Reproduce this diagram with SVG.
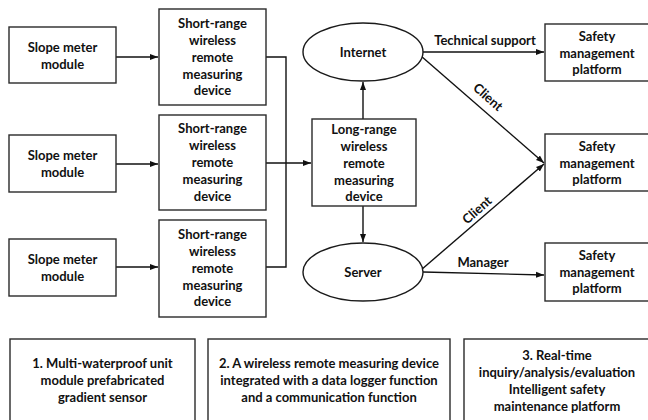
<svg xmlns="http://www.w3.org/2000/svg" width="648" height="420" viewBox="0 0 648 420">
  <style>
    .box { fill: #ffffff; stroke: #2a2a2a; stroke-width: 1.4; }
    .oval { fill: #ffffff; stroke: #1a1a1a; stroke-width: 1.4; }
    .t { font-family: Lato, "Liberation Sans", sans-serif; font-weight: bold; font-size: 13px; fill: #111111; text-anchor: middle; }
    .edge { fill: none; stroke: #111111; stroke-width: 1.4; }
    .arrow { marker-end: url(#head); }
  </style>
  <defs>
    <marker id="head" markerUnits="userSpaceOnUse" markerWidth="9" markerHeight="7" refX="8" refY="3.5" orient="auto">
      <path d="M0,0.5 L8,3.5 L0,6.5 z" fill="#111111"/>
    </marker>
  </defs>
  <rect width="648" height="420" fill="#ffffff"/>

  <!-- connectors -->
  <g id="connectors">
    <line class="edge arrow" x1="116" y1="57" x2="158" y2="57"/>
    <line class="edge arrow" x1="116" y1="164" x2="158" y2="164"/>
    <line class="edge arrow" x1="116" y1="267" x2="158" y2="267"/>
    <polyline class="edge" points="266,57 286,57 286,267 266,267"/>
    <line class="edge arrow" x1="266" y1="163" x2="311" y2="163"/>
    <line class="edge arrow" x1="363" y1="119" x2="363" y2="82"/>
    <line class="edge arrow" x1="363" y1="206" x2="363" y2="242"/>
    <line class="edge arrow" x1="423" y1="52" x2="544" y2="52"/>
    <line class="edge arrow" x1="421" y1="56" x2="544" y2="163"/>
    <line class="edge arrow" x1="421" y1="270" x2="544" y2="164"/>
    <line class="edge arrow" x1="423" y1="272" x2="544" y2="275"/>
    <text class="t" x="485" y="44.5">Technical support</text>
    <text class="t" x="483" y="266.5">Manager</text>
    <text class="t" transform="translate(488,97) rotate(41.5)" y="4.5">Client</text>
    <text class="t" transform="translate(477,210) rotate(-41.8)" y="4.5">Client</text>
  </g>

  <!-- slope meter modules -->
  <g id="slope1">
    <rect class="box" x="9" y="27" width="107" height="56"/>
    <text class="t" x="62.5" y="51.5">Slope meter</text>
    <text class="t" x="62.5" y="68.5">module</text>
  </g>
  <g id="slope2">
    <rect class="box" x="9" y="135" width="107" height="57"/>
    <text class="t" x="62.5" y="159.5">Slope meter</text>
    <text class="t" x="62.5" y="176.5">module</text>
  </g>
  <g id="slope3">
    <rect class="box" x="9" y="239" width="107" height="57"/>
    <text class="t" x="62.5" y="263.5">Slope meter</text>
    <text class="t" x="62.5" y="280.5">module</text>
  </g>

  <!-- short-range devices -->
  <g id="short1">
    <rect class="box" x="159" y="9" width="107" height="96"/>
    <text class="t" x="212.5" y="27.5">Short-range</text>
    <text class="t" x="212.5" y="44.5">wireless</text>
    <text class="t" x="212.5" y="61.5">remote</text>
    <text class="t" x="212.5" y="78.5">measuring</text>
    <text class="t" x="212.5" y="95">device</text>
  </g>
  <g id="short2">
    <rect class="box" x="159" y="115" width="107" height="95"/>
    <text class="t" x="212.5" y="133">Short-range</text>
    <text class="t" x="212.5" y="150">wireless</text>
    <text class="t" x="212.5" y="167">remote</text>
    <text class="t" x="212.5" y="184">measuring</text>
    <text class="t" x="212.5" y="200.5">device</text>
  </g>
  <g id="short3">
    <rect class="box" x="159" y="220" width="107" height="97"/>
    <text class="t" x="212.5" y="238.5">Short-range</text>
    <text class="t" x="212.5" y="255.5">wireless</text>
    <text class="t" x="212.5" y="272.5">remote</text>
    <text class="t" x="212.5" y="289.5">measuring</text>
    <text class="t" x="212.5" y="306">device</text>
  </g>

  <!-- long-range device -->
  <g id="longrange">
    <rect class="box" x="312" y="119" width="104" height="87"/>
    <text class="t" x="364" y="133.5">Long-range</text>
    <text class="t" x="364" y="150.5">wireless</text>
    <text class="t" x="364" y="167.5">remote</text>
    <text class="t" x="364" y="184.5">measuring</text>
    <text class="t" x="364" y="201">device</text>
  </g>

  <!-- network ends -->
  <g id="internet">
    <ellipse class="oval" cx="363" cy="52" rx="60" ry="29"/>
    <text class="t" x="363" y="56.5">Internet</text>
  </g>
  <g id="server">
    <ellipse class="oval" cx="363" cy="272" rx="60" ry="29"/>
    <text class="t" x="363" y="276.5">Server</text>
  </g>

  <!-- safety management platforms -->
  <g id="platform1">
    <rect class="box" x="545" y="24" width="106" height="57"/>
    <text class="t" x="597" y="40.5">Safety</text>
    <text class="t" x="597" y="57.5">management</text>
    <text class="t" x="597" y="73.5">platform</text>
  </g>
  <g id="platform2">
    <rect class="box" x="545" y="134" width="106" height="57"/>
    <text class="t" x="597" y="150.5">Safety</text>
    <text class="t" x="597" y="167.5">management</text>
    <text class="t" x="597" y="183.5">platform</text>
  </g>
  <g id="platform3">
    <rect class="box" x="545" y="243" width="106" height="58"/>
    <text class="t" x="597" y="259.5">Safety</text>
    <text class="t" x="597" y="276.5">management</text>
    <text class="t" x="597" y="292.5">platform</text>
  </g>

  <!-- summary captions -->
  <g id="caption1">
    <rect class="box" x="10" y="339" width="185" height="90"/>
    <text class="t" x="102.5" y="367.5">1. Multi-waterproof unit</text>
    <text class="t" x="102.5" y="384.5">module prefabricated</text>
    <text class="t" x="102.5" y="401.5">gradient sensor</text>
  </g>
  <g id="caption2">
    <rect class="box" x="208" y="339" width="242" height="90"/>
    <text class="t" x="329" y="367.5">2. A wireless remote measuring device</text>
    <text class="t" x="329" y="384.5">integrated with a data logger function</text>
    <text class="t" x="329" y="401.5">and a communication function</text>
  </g>
  <g id="caption3">
    <rect class="box" x="464" y="339" width="190" height="90"/>
    <text class="t" x="557" y="359.5">3. Real-time</text>
    <text class="t" x="557" y="376.5">inquiry/analysis/evaluation</text>
    <text class="t" x="557" y="393.5">Intelligent safety</text>
    <text class="t" x="557" y="410.5">maintenance platform</text>
  </g>
</svg>
